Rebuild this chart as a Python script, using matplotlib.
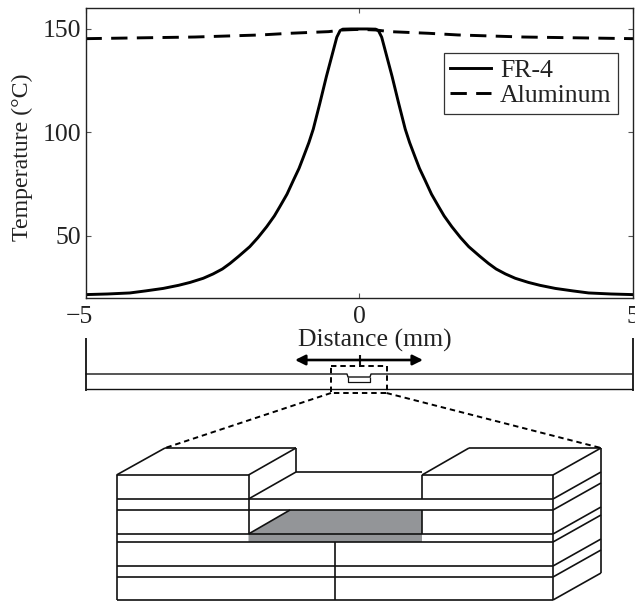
import matplotlib
matplotlib.use("Agg")
import matplotlib.pyplot as plt
from matplotlib.patches import Polygon
from matplotlib.transforms import ScaledTranslation

plt.rcParams["font.family"] = ["Liberation Serif"]

# curves
dist_fr4 = [-5, -4.6, -4.19, -3.9, -3.58, -3.3, -3.09, -2.85, -2.67, -2.5, -2.36, -2.2, -2, -1.85, -1.69, -1.55,
            -1.45, -1.32, -1.2, -1.1, -1.02, -0.92, -0.84, -0.72, -0.6, -0.5, -0.41, -0.35, -0.3, -0.15, 0,
            0.15, 0.3, 0.35, 0.41, 0.5, 0.6, 0.72, 0.84, 0.92, 1.02, 1.1, 1.2, 1.32, 1.45, 1.55,
            1.69, 1.85, 2, 2.2, 2.36, 2.5, 2.67, 2.85, 3.09, 3.3, 3.58, 3.9, 4.19, 4.6, 5]
temp_fr4 = [21.4, 21.7, 22.2, 23.2, 24.4, 25.9, 27.3, 29.3, 31.4, 33.8, 36.5, 40, 44.6, 49, 54.3, 59.5,
            64, 70, 76.9, 82.5, 88, 95, 101.5, 114, 127, 137, 146, 149.2, 149.9, 150, 150,
            150, 149.9, 149.2, 146, 137, 127, 114, 101.5, 95, 88, 82.5, 76.9, 70, 64, 59.5,
            54.3, 49, 44.6, 40, 36.5, 33.8, 31.4, 29.3, 27.3, 25.9, 24.4, 23.2, 22.2, 21.7, 21.4]
dist_al = [-5, -3, -1.8, -1.27, -0.56, -0.3, 0, 0.3, 0.56, 1.27, 1.8, 3, 5]
temp_al = [145.3, 146.1, 147.1, 147.9, 148.7, 149.5, 149.8, 149.5, 148.7, 147.9, 147.1, 146.1, 145.3]
x_ticks = [-5, 0, 5]
x_labels = ["\u22125", "0", "5"]
y_ticks = [50, 100, 150]

W, H = 635, 601
text_c = "#222222"
fig = plt.figure(figsize=(W / 100, H / 100), dpi=100)
ax = fig.add_axes([85.5 / W, 1 - 297.5 / H, 547.5 / W, 289.2 / H])
ax.plot(dist_fr4, temp_fr4, "k-", lw=2.1, label="FR-4")
ax.plot(dist_al, temp_al, "k--", lw=2.1, dashes=(5.6, 3.2), label="Aluminum")
ax.set_xlim(-5, 5)
ax.set_ylim(20, 160)
ax.set_xticks(x_ticks)
ax.set_xticklabels(x_labels)
ax.set_yticks(y_ticks)
ax.tick_params(direction="in", length=3.6, width=0.8, color="#555555", labelsize=18.5,
               top=True, right=True, labelcolor=text_c)
ax.tick_params(axis="x", pad=6)
ax.tick_params(axis="y", pad=3)
ax.set_xlabel("Distance (mm)", fontsize=18.5, color=text_c)
ax.xaxis.set_label_coords((375 - 85.5) / 547.5, -0.108)
ax.set_ylabel("Temperature (\u00b0C)", fontsize=17.2, color=text_c)
ax.yaxis.set_label_coords(-0.096, (297.5 - 157) / 289.2)
for s in ax.spines.values():
    s.set_linewidth(1.0)
    s.set_color("#222222")
# minus sign hangs to the left of the tick
first = ax.get_xticklabels()[0]
first.set_transform(first.get_transform() + ScaledTranslation(-6 / 100, 0, fig.dpi_scale_trans))

leg = ax.legend(loc="upper right", bbox_to_anchor=(618 / W, 1 - 53 / H), bbox_transform=fig.transFigure,
                fontsize=18.5, frameon=True, fancybox=False, framealpha=1, edgecolor="#333333",
                borderaxespad=0, borderpad=0.25, labelspacing=0.08, handlelength=1.6, handletextpad=0.35,
                labelcolor=text_c)
leg.get_frame().set_linewidth(0.9)

# overlay in pixel coordinates for the stack drawing
ov = fig.add_axes([0, 0, 1, 1], facecolor="none")
ov.set_xlim(0, W)
ov.set_ylim(H, 0)
ov.axis("off")

layer_y = [499, 510, 534, 542, 566, 577, 600]
x_l, x_a, x_b, x_r, x_back = 116.5, 248.5, 422, 553, 601
top_y, back_y, step = 475, 448, 27


def seg(xs, ys, lw=1.2, ls="-", c="#111111"):
    ov.plot(xs, ys, color=c, lw=lw, ls=ls, solid_capstyle="butt")


# gray cavity
ov.add_patch(Polygon([(x_a, 534), (290, 510), (x_b, 510), (x_b, 542), (x_a, 542)], fc="#939598", ec="none"))

# layers
for y in layer_y:
    seg([x_l, x_r], [y, y])
    seg([x_r, x_back], [y, y - step])
seg([x_l, x_l], [top_y, 600])
seg([x_r, x_r], [top_y, 600])
seg([x_back, x_back], [back_y, 600 - step])
seg([335, 335], [542, 600])

# top blocks
seg([x_l, x_a], [top_y, top_y])
seg([x_b, x_r], [top_y, top_y])
seg([x_l, 165], [top_y, back_y])
seg([165, 296], [back_y, back_y])
seg([x_a, 296], [top_y, back_y])
seg([296, 296], [back_y, 472])
seg([x_a, 296], [499, 472])
seg([296, x_b], [472, 472])
seg([x_b, 469], [top_y, back_y])
seg([469, x_back], [back_y, back_y])
seg([x_r, x_back], [top_y, back_y])
seg([x_a, x_a], [top_y, 534])
seg([x_b, x_b], [top_y, 499])
seg([x_b, x_b], [510, 534])
seg([x_a, 290], [534, 510])

# small cross-section
seg([85.5, 85.5], [338, 391], lw=1.3)
seg([632.5, 632.5], [338, 391], lw=1.3)
seg([85.5, 347, 348, 370, 371, 632.5], [374, 374, 377, 377, 374, 374], lw=1)
seg([85.5, 632.5], [389, 389], lw=1)
seg([348, 348, 370, 370], [377, 382, 382, 377], lw=0.9)
seg([359.5, 359.5], [355, 365], lw=1.5)
ov.annotate("", xy=(295, 360), xytext=(423, 360),
            arrowprops=dict(arrowstyle="<|-|>", color="k", lw=1.9, mutation_scale=15, shrinkA=0, shrinkB=0))

# zoom box and guide lines
dash = (0, (2.8, 2))
seg([331, 386.5, 386.5, 331, 331], [366, 366, 393, 393, 366], lw=1.4, ls=dash, c="k")
seg([331, 165], [393, back_y], lw=1.4, ls=dash, c="k")
seg([386.5, x_back], [393, back_y], lw=1.4, ls=dash, c="k")

fig.savefig("out.png", dpi=100)
